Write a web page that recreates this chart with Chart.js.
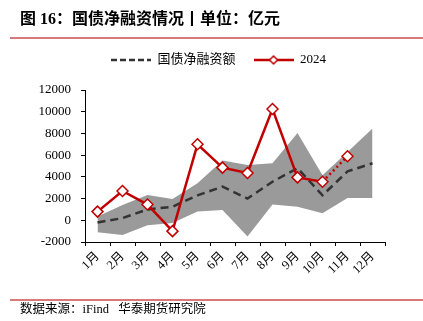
<!DOCTYPE html>
<html lang="zh">
<head>
    <meta charset="UTF-8">
    <title>国债净融资情况</title>
    <script src="https://cdn.jsdelivr.net/npm/chart.js"></script>
    <style>
        body {
            margin: 0;
            background: #fff;
        }
        #marco {
            position: relative;
            width: 423px;
            height: 321px;
            overflow: hidden;
        }
        #grafica {
            position: absolute;
            left: 0;
            top: 0;
        }
        #titulo {
            position: absolute;
            left: 20px;
            top: 5px;
            line-height: 20px;
            font: bold 16px 'Liberation Serif', 'Noto Sans CJK SC', serif;
            color: #000;
            white-space: nowrap;
        }
        .linea {
            position: absolute;
            left: 10px;
            right: 0;
            height: 2px;
            background: #d9797b;
        }
        #fuente {
            position: absolute;
            left: 20px;
            top: 300px;
            line-height: 18px;
            font-size: 12.5px;
            font-family: 'Liberation Serif', 'Noto Sans CJK SC', serif;
            color: #000;
            white-space: pre;
        }
    </style>
</head>
<body>
    <div id="marco">
        <canvas id="grafica" width="423" height="321"></canvas>
        <div id="titulo">图 16：国债净融资情况丨单位：亿元</div>
        <div class="linea" style="top:37px"></div>
        <div class="linea" style="top:299px"></div>
        <div id="fuente">数据来源：iFind   华泰期货研究院</div>
    </div>

    <script>
        // datos (亿元)
        const meses = ['1月', '2月', '3月', '4月', '5月', '6月', '7月', '8月', '9月', '10月', '11月', '12月'];
        const promedio = [-200, 200, 1000, 1250, 2300, 3100, 2000, 3550, 4800, 2300, 4500, 5250];
        const anio2024 = [800, 2700, 1450, -1000, 7000, 4850, 4350, 10250, 3950, 3550, 5900, null];
        const bandaSup = [350, 1400, 2330, 1950, 3400, 5500, 5100, 5250, 8050, 4150, 6300, 8450];
        const bandaInf = [-1100, -1350, -450, -250, 800, 950, -1500, 1450, 1250, 650, 2050, 2050];
        const ticksY = [-2000, 0, 2000, 4000, 6000, 8000, 10000, 12000];

        const ROJO = '#c00000';
        const FUENTE = "'Liberation Serif', 'Noto Sans CJK SC', serif";

        // símbolos de la leyenda
        function simboloPunteado() {
            const c = document.createElement('canvas');
            c.width = 40; c.height = 12;
            const g = c.getContext('2d');
            g.strokeStyle = '#333';
            g.lineWidth = 2.5;
            g.setLineDash([6, 3]);
            g.beginPath(); g.moveTo(0, 6); g.lineTo(40, 6); g.stroke();
            return c;
        }
        function simboloRombo() {
            const c = document.createElement('canvas');
            c.width = 40; c.height = 12;
            const g = c.getContext('2d');
            g.strokeStyle = ROJO;
            g.lineWidth = 2.5;
            g.beginPath(); g.moveTo(0, 6); g.lineTo(40, 6); g.stroke();
            g.fillStyle = '#fff';
            g.lineWidth = 1.5;
            g.beginPath();
            g.moveTo(20, 2); g.lineTo(24, 6); g.lineTo(20, 10); g.lineTo(16, 6); g.closePath();
            g.fill(); g.stroke();
            return c;
        }

        // más espacio bajo la leyenda y leyenda centrada en x = 218
        const ajusteLeyenda = {
            id: 'ajusteLeyenda',
            beforeInit(chart) {
                const fitOriginal = chart.legend.fit;
                chart.legend.fit = function () {
                    fitOriginal.bind(chart.legend)();
                    this.height += 13.5;
                };
            },
            afterLayout(chart) {
                chart.legend.left = 52;
                chart.legend.right = 385;
            }
        };

        const ctx = document.getElementById('grafica').getContext('2d');
        new Chart(ctx, {
            type: 'line',
            data: {
                labels: meses,
                datasets: [
                    {
                        label: '2024',
                        data: anio2024,
                        borderColor: ROJO,
                        borderWidth: 2.5,
                        pointStyle: 'rectRot',
                        pointRadius: 5.5,
                        pointBackgroundColor: '#fff',
                        pointBorderColor: ROJO,
                        pointBorderWidth: 1.5,
                        fill: false,
                        order: 0,
                        segment: {
                            borderDash: c => c.p0DataIndex === 9 ? [2, 3] : undefined
                        }
                    },
                    {
                        label: '国债净融资额',
                        data: promedio,
                        borderColor: '#333',
                        borderWidth: 2.5,
                        borderDash: [8, 5],
                        pointRadius: 0,
                        fill: false,
                        order: 1
                    },
                    {
                        label: 'inf',
                        data: bandaInf,
                        borderWidth: 0,
                        pointRadius: 0,
                        fill: false,
                        order: 3
                    },
                    {
                        label: 'sup',
                        data: bandaSup,
                        borderWidth: 0,
                        pointRadius: 0,
                        backgroundColor: '#9a9a9a',
                        fill: '-1',
                        order: 2
                    }
                ]
            },
            options: {
                responsive: false,
                animation: false,
                layout: {
                    padding: { top: 35.5, left: 0, right: 38, bottom: 0 }
                },
                scales: {
                    x: {
                        offset: true,
                        grid: {
                            offset: true,
                            drawOnChartArea: false,
                            tickLength: 4,
                            color: '#000'
                        },
                        border: { color: '#000', width: 1 },
                        ticks: {
                            color: '#000',
                            font: { family: FUENTE, size: 12.5 },
                            minRotation: 45,
                            maxRotation: 45,
                            autoSkip: false,
                            padding: 3
                        },
                        afterFit: s => { s.height = 79; }
                    },
                    y: {
                        min: -2000,
                        max: 12000,
                        afterBuildTicks: s => { s.ticks = ticksY.map(v => ({ value: v })); },
                        grid: {
                            drawOnChartArea: false,
                            tickLength: 4,
                            color: '#000'
                        },
                        border: { color: '#000', width: 1 },
                        ticks: {
                            color: '#000',
                            font: { family: FUENTE, size: 13 },
                            padding: 10,
                            callback: v => String(v)
                        },
                        afterFit: s => { s.width = 85; }
                    }
                },
                plugins: {
                    tooltip: { enabled: false },
                    legend: {
                        labels: {
                            usePointStyle: true,
                            pointStyleWidth: 40,
                            padding: 18,
                            color: '#000',
                            font: { family: FUENTE, size: 13 },
                            generateLabels: () => [
                                { text: '国债净融资额', pointStyle: simboloPunteado(), datasetIndex: 1, lineWidth: 0, fillStyle: '#fff', strokeStyle: '#fff' },
                                { text: '2024', pointStyle: simboloRombo(), datasetIndex: 0, lineWidth: 0, fillStyle: '#fff', strokeStyle: '#fff' }
                            ]
                        }
                    }
                }
            },
            plugins: [ajusteLeyenda]
        });
    </script>
</body>
</html>
